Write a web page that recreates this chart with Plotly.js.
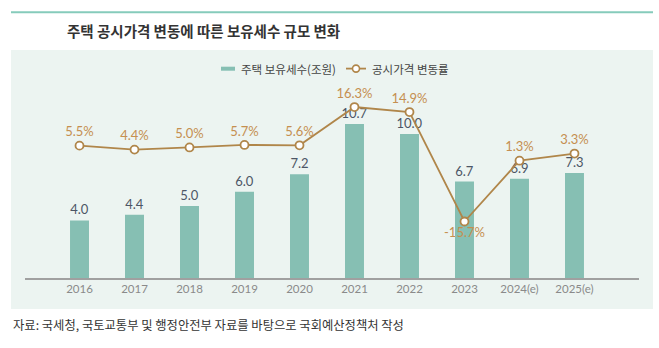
<!DOCTYPE html>
<html>
<head>
<meta charset="utf-8">
<script src="https://cdn.plot.ly/plotly-3.0.1.min.js"></script>
<style>
html,body{margin:0;padding:0;background:#fff;}
#chart{width:659px;height:348px;}
</style>
</head>
<body>
<div id="chart"></div>
<script>
// ---- data ----
const years = ['2016','2017','2018','2019','2020','2021','2022','2023','2024(e)','2025(e)'];
const taxRevenue = [4.0, 4.4, 5.0, 6.0, 7.2, 10.7, 10.0, 6.7, 6.9, 7.3];
const priceChange = [5.5, 4.4, 5.0, 5.7, 5.6, 16.3, 14.9, -15.7, 1.3, 3.3];
const barName = '주택 보유세수(조원)';
const lineName = '공시가격 변동률';
const titleText = '주택 공시가격 변동에 따른 보유세수 규모 변화';
const sourceText = '자료: 국세청, 국토교통부 및 행정안전부 자료를 바탕으로 국회예산정책처 작성';

// ---- layout geometry (pixels) ----
const W = 659, H = 348;
const L = 25, R = 639, T = 90, B = 278;
const px = x => (x - L) / (R - L);
const py = y => (B - y) / (B - T);

const barColor = '#86bfb3';
const lineColor = '#b0864a';
const lineLabelColor = '#c58f50';
const barLabelColor = '#4c5666';
const korFont = '"Noto Sans CJK KR", "Noto Sans", sans-serif';
const numFont = 'Lato, "Noto Sans", sans-serif';

const bars = {
  type: 'bar',
  x: years,
  y: taxRevenue,
  name: barName,
  marker: {color: barColor},
  width: 0.345,
  text: taxRevenue.map(v => v.toFixed(1)),
  textposition: 'outside',
  constraintext: 'none',
  cliponaxis: false,
  textfont: {family: numFont, size: 13, color: barLabelColor},
  hoverinfo: 'x+y',
  showlegend: false
};

const line = {
  type: 'scatter',
  mode: 'lines+markers+text',
  x: years,
  y: priceChange,
  yaxis: 'y2',
  name: lineName,
  line: {color: lineColor, width: 1.8},
  marker: {symbol: 'circle', size: 8, color: '#ffffff', line: {color: lineColor, width: 1.8}},
  text: priceChange.map(v => v.toFixed(1) + '%'),
  textposition: priceChange.map(v => v < 0 ? 'bottom center' : 'top center'),
  textfont: {family: numFont, size: 13, color: lineLabelColor},
  cliponaxis: false,
  showlegend: false
};

const layout = {
  width: W, height: H,
  margin: {l: L, r: W - R, t: T, b: H - B, pad: 0},
  paper_bgcolor: '#ffffff',
  plot_bgcolor: 'rgba(0,0,0,0)',
  showlegend: false,
  xaxis: {
    type: 'category',
    range: [-0.991, 10.173],
    showline: true, linecolor: '#a0a0a0', linewidth: 1.5,
    showgrid: false, zeroline: false, ticks: '',
    tickfont: {family: numFont, size: 11.5, color: '#8a8a8a'},
    fixedrange: true
  },
  yaxis: {range: [0, 13.06], visible: false, fixedrange: true},
  yaxis2: {range: [-31.5, 21.06], overlaying: 'y', side: 'right', visible: false, fixedrange: true},
  shapes: [
    {type: 'rect', xref: 'paper', yref: 'paper', x0: px(11), x1: px(653), y0: py(309), y1: py(50),
     fillcolor: '#ecf4f1', line: {width: 0}, layer: 'below'},
    {type: 'line', xref: 'paper', yref: 'paper', x0: px(11), x1: px(653), y0: py(12.3), y1: py(12.3),
     line: {color: '#86cbbb', width: 2}},
    {type: 'rect', xref: 'paper', yref: 'paper', x0: px(221), x1: px(235), y0: py(70.7), y1: py(66.7),
     fillcolor: barColor, line: {width: 0}},
    {type: 'line', xref: 'paper', yref: 'paper', x0: px(346), x1: px(366), y0: py(68.6), y1: py(68.6),
     line: {color: lineColor, width: 1.8}},
    {type: 'circle', xref: 'paper', yref: 'paper', x0: px(352.5), x1: px(359.5), y0: py(72.1), y1: py(65.1),
     fillcolor: '#ffffff', line: {color: lineColor, width: 1.6}}
  ],
  annotations: [
    {xref: 'paper', yref: 'paper', x: px(65), y: py(30), xanchor: 'left', yanchor: 'middle',
     text: '<b>' + titleText + '</b>', showarrow: false,
     font: {family: korFont, size: 14.5, color: '#333333'}},
    {xref: 'paper', yref: 'paper', x: px(239), y: py(68.6), xanchor: 'left', yanchor: 'middle',
     text: barName, showarrow: false,
     font: {family: korFont, size: 11.5, color: '#444444'}},
    {xref: 'paper', yref: 'paper', x: px(370), y: py(68.6), xanchor: 'left', yanchor: 'middle',
     text: lineName, showarrow: false,
     font: {family: korFont, size: 11.5, color: '#444444'}},
    {xref: 'paper', yref: 'paper', x: px(11), y: py(325), xanchor: 'left', yanchor: 'middle',
     text: sourceText, showarrow: false,
     font: {family: korFont, size: 12.3, color: '#333333'}}
  ]
};

Plotly.newPlot('chart', [bars, line], layout, {displayModeBar: false, staticPlot: true});
</script>
</body>
</html>
